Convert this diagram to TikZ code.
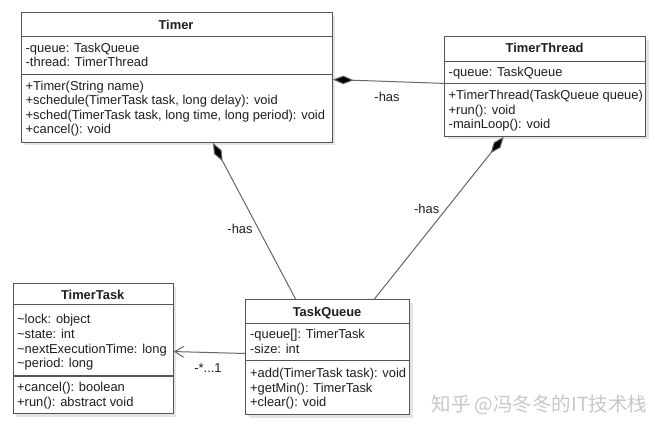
\documentclass[tikz,border=0pt]{standalone}
\usepackage{fontspec}
\setmainfont{Liberation Sans}
\newfontfamily\cjk{Noto Sans CJK SC}
\usetikzlibrary{arrows.meta,calc,shadows}
\definecolor{boxc}{HTML}{555555}
\definecolor{linec}{HTML}{666666}
\definecolor{txt}{HTML}{1E1E1E}
\definecolor{shad}{HTML}{E4E4E4}
\definecolor{wm}{HTML}{C8C8C8}
\newcommand\umlfont{\fontsize{12.9}{15}\selectfont}
\begin{document}
\begin{tikzpicture}[x=1pt,y=-1pt,
  box/.style={draw=boxc, fill=white, line width=1.1pt, inner sep=0pt, anchor=north west,
    drop shadow={shadow xshift=3pt, shadow yshift=-3pt, fill=shad, opacity=1}},
  div/.style={draw=boxc, line width=1.1pt},
  hdr/.style={anchor=base, inner sep=0pt, text=txt, font=\umlfont\bfseries},
  mem/.style={anchor=base west, inner sep=0pt, text=txt, font=\umlfont},
  lbl/.style={inner sep=0pt, text=txt, font=\umlfont},
  conn/.style={draw=linec, line width=1pt},
  comp/.style={conn, {Diamond[length=21pt,width=8.5pt,fill=black]}-},
  nav/.style={conn, -{Straight Barb[length=9pt,width=11pt]}}
]
\useasboundingbox[fill=white] (0,0) rectangle (664,438);

% ---------- Timer ----------
\node[box, minimum width=310.7pt, minimum height=129.4pt] (timer) at (21,12.3) {};
\draw[div] (timer.west |- 0,36.7) -- (timer.east |- 0,36.7);
\draw[div] (timer.west |- 0,74.7) -- (timer.east |- 0,74.7);
\node[hdr] (timer-h) at (176,29.6) {Timer};
\node[mem] (timer-a1) at (25.5,52.3) {-queue: TaskQueue};
\node[mem] (timer-a2) at (25.5,66.7) {-thread: TimerThread};
\node[mem] (timer-m1) at (25.5,90.3) {+Timer(String name)};
\node[mem] (timer-m2) at (25.5,104.7) {+schedule(TimerTask task, long delay): void};
\node[mem] (timer-m3) at (25.5,119.1) {+sched(TimerTask task, long time, long period): void};
\node[mem] (timer-m4) at (25.5,133.5) {+cancel(): void};

% ---------- TimerThread ----------
\node[box, minimum width=200.7pt, minimum height=99.7pt] (tthread) at (444.3,36) {};
\draw[div] (tthread.west |- 0,61.7) -- (tthread.east |- 0,61.7);
\draw[div] (tthread.west |- 0,83.3) -- (tthread.east |- 0,83.3);
\node[hdr] (tthread-h) at (544.6,52.9) {TimerThread};
\node[mem] (tthread-a1) at (448.5,76.3) {-queue: TaskQueue};
\node[mem] (tthread-m1) at (448.5,99.6) {+TimerThread(TaskQueue queue)};
\node[mem] (tthread-m2) at (448.5,114.1) {+run(): void};
\node[mem] (tthread-m3) at (448.5,128.6) {-mainLoop(): void};

% ---------- TimerTask ----------
\node[box, minimum width=160pt, minimum height=130pt] (ttask) at (12.7,283.3) {};
\draw[div] (ttask.west |- 0,304.3) -- (ttask.east |- 0,304.3);
\draw[div] (ttask.west |- 0,376) -- (ttask.east |- 0,376);
\node[hdr] (ttask-h) at (92.7,299.6) {TimerTask};
\node[mem] (ttask-a1) at (17,323.9) {\textasciitilde lock: object};
\node[mem] (ttask-a2) at (17,338.5) {\textasciitilde state: int};
\node[mem] (ttask-a3) at (17,353.1) {\textasciitilde nextExecutionTime: long};
\node[mem] (ttask-a4) at (17,367.7) {\textasciitilde period: long};
\node[mem] (ttask-m1) at (17,391.3) {+cancel(): boolean};
\node[mem] (ttask-m2) at (17,406.1) {+run(): abstract void};

% ---------- TaskQueue ----------
\node[box, minimum width=164.3pt, minimum height=114.7pt] (tq) at (245,299.3) {};
\draw[div] (tq.west |- 0,323.3) -- (tq.east |- 0,323.3);
\draw[div] (tq.west |- 0,360.7) -- (tq.east |- 0,360.7);
\node[hdr] (tq-h) at (327.1,316.9) {TaskQueue};
\node[mem] (tq-a1) at (250,338.9) {-queue[]: TimerTask};
\node[mem] (tq-a2) at (250,353.9) {-size: int};
\node[mem] (tq-m1) at (250,377.9) {+add(TimerTask task): void};
\node[mem] (tq-m2) at (250,392.4) {+getMin(): TimerTask};
\node[mem] (tq-m3) at (250,406.9) {+clear(): void};

% ---------- connectors ----------
\draw[comp] ([yshift=-2pt]timer.east) -- ([yshift=3pt]tthread.west);
\draw[comp] ([xshift=36pt]timer.south) -- ([xshift=-32pt]tq.north);
\draw[comp] ([xshift=-41.5pt]tthread.south) -- ([xshift=46.5pt]tq.north);
\draw[nav] ([yshift=3.7pt]tq.west) -- ([yshift=-2.7pt]ttask.east);

\node[lbl] (l1) at (387,97) {-has};
\node[lbl] (l2) at (240,229) {-has};
\node[lbl] (l3) at (426.7,209) {-has};
\node[lbl] (l4) at (208,368) {-*...1};

% ---------- watermark ----------
\node[inner sep=0pt, text=wm, font=\cjk\fontsize{19.5}{21}\selectfont] (wm) at (539.5,405) {知乎 @冯冬冬的IT技术栈};
\end{tikzpicture}
\end{document}
